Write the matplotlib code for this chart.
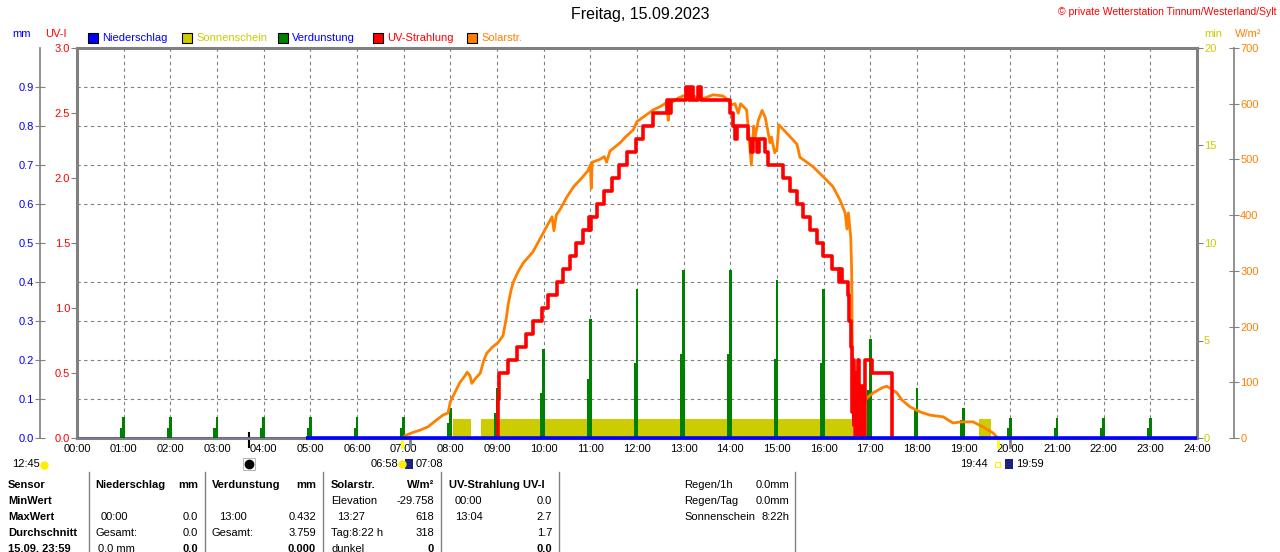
import matplotlib
matplotlib.use('Agg')
import matplotlib.pyplot as plt
import matplotlib.transforms as mtrans
from matplotlib.patches import Rectangle
from matplotlib.lines import Line2D

plt.rcParams['font.family'] = ['Liberation Sans', 'DejaVu Sans']
plt.rcParams['font.size'] = 8

#%% data
hours = list(range(25))
hour_labels = ['%02d:00' % h for h in hours]

# UV index, step curve (hour, UV-I)
uv_t = [9.00, 9.02, 9.05, 9.24, 9.43, 9.62, 9.77, 9.96, 10.09, 10.29, 10.41, 10.56,
        10.69, 10.84, 10.97, 11.00, 11.02, 11.14, 11.29, 11.46, 11.61, 11.79, 11.98,
        12.13, 12.34, 12.64, 12.68, 12.72, 13.05, 13.12, 13.16, 13.20, 13.30, 13.38,
        13.99, 14.06, 14.10, 14.14, 14.38, 14.45, 14.48, 14.58, 14.61, 14.74, 14.80,
        15.13, 15.27, 15.43, 15.56, 15.71, 15.86, 15.98, 16.18, 16.33, 16.36, 16.40,
        16.52, 16.55, 16.58, 16.60, 16.62, 16.64, 16.66, 16.68, 16.70, 16.72, 16.74,
        16.76, 16.80, 16.84, 16.89, 17.03, 17.46]
uv_v = [0.0, 0.3, 0.5, 0.6, 0.7, 0.8, 0.9, 1.0, 1.1, 1.2, 1.3, 1.4,
        1.5, 1.6, 1.7, 1.6, 1.7, 1.8, 1.9, 2.0, 2.1, 2.2, 2.3,
        2.4, 2.5, 2.6, 2.5, 2.6, 2.7, 2.6, 2.7, 2.6, 2.7, 2.6,
        2.5, 2.4, 2.3, 2.4, 2.3, 2.2, 2.3, 2.2, 2.3, 2.2, 2.1,
        2.0, 1.9, 1.8, 1.7, 1.6, 1.5, 1.4, 1.3, 1.2, 1.3, 1.2,
        1.1, 0.9, 0.7, 0.2, 0.6, 0.1, 0.5, 0.0, 0.5, 0.1, 0.6,
        0.0, 0.4, 0.0, 0.6, 0.5, 0.0]

# solar radiation W/m2
solar_t = [6.97, 7.05, 7.20, 7.35, 7.52, 7.70, 7.84, 7.95, 8.00, 8.10, 8.20, 8.30,
           8.36, 8.42, 8.46, 8.55, 8.64, 8.72, 8.78, 8.90, 9.02, 9.13, 9.20, 9.24,
           9.30, 9.35, 9.45, 9.56, 9.77, 9.99, 10.10, 10.18, 10.22, 10.27, 10.35,
           10.50, 10.65, 10.82, 10.95, 11.00, 11.02, 11.04, 11.20, 11.30, 11.35,
           11.42, 11.64, 11.75, 11.92, 12.00, 12.20, 12.35, 12.50, 12.64, 12.67,
           12.70, 12.88, 13.13, 13.35, 13.63, 13.84, 13.90, 14.03, 14.10, 14.17,
           14.22, 14.35, 14.45, 14.50, 14.53, 14.60, 14.68, 14.75, 14.85, 14.88,
           14.95, 15.00, 15.04, 15.20, 15.43, 15.49, 15.77, 15.99, 16.20, 16.35,
           16.46, 16.50, 16.53, 16.58, 16.60, 16.62, 16.65, 16.71, 16.80, 16.93,
           17.06, 17.25, 17.35, 17.45, 17.57, 17.68, 17.85, 18.06, 18.28, 18.56,
           18.77, 18.96, 19.20, 19.41, 19.63, 19.73]
solar_w = [0, 5, 10, 14, 20, 32, 41, 45, 65, 82, 99, 110,
           118, 112, 98, 108, 116, 140, 152, 163, 171, 184, 215, 240,
           265, 280, 298, 314, 334, 368, 385, 397, 372, 400, 410,
           433, 452, 467, 480, 490, 448, 495, 500, 505, 495,
           515, 530, 540, 553, 568, 580, 589, 595, 602, 570,
           600, 610, 619, 607, 616, 614, 610, 598, 600, 583,
           600, 589, 490, 560, 540, 570, 588, 575, 530, 540,
           512, 520, 562, 548, 527, 504, 487, 469, 451, 427,
           404, 375, 404, 361, 300, 90, 60, 50, 55, 72,
           81, 90, 93, 88, 81, 68, 56, 47, 41, 38,
           27, 29, 29, 20, 9, 0]

# sunshine minutes (blocks)
sun_start = [8.06, 8.66, 19.33]
sun_end = [8.44, 16.62, 19.58]
sun_min = [1, 1, 1]

# evaporation mm per hour
evap_t = list(range(1, 24))
evap_peak = [0.054, 0.054, 0.054, 0.054, 0.054, 0.054, 0.054, 0.077, 0.128, 0.228,
             0.305, 0.382, 0.432, 0.431, 0.405, 0.382, 0.254, 0.128, 0.077, 0.051,
             0.051, 0.051, 0.051]
evap_low = [0.026, 0.026, 0.026, 0.026, 0.026, 0.026, 0.026, 0.038, 0.064, 0.115,
            0.151, 0.192, 0.215, 0.215, 0.203, 0.192, 0.123, 0.072, 0.046, 0.026,
            0.026, 0.026, 0.026]

# precipitation mm
rain_t = [4.9, 24.0]
rain_mm = [0.0, 0.0]

# events below the time axis
moon_t = 3.68
sunrise = [6.967, 7.133]
sunset = [19.733, 19.983]

BLUE = '#0000ff'
YEL = '#cccc00'
GREEN = '#008000'
RED = '#ff0000'
ORANGE = '#ff8000'
GRAY = '#808080'

W, H = 1280, 552
def fp(x, y):
    return x / W, 1 - y / H

fig = plt.figure(figsize=(W / 100, H / 100), dpi=100)
ax = fig.add_axes([77 / W, 114 / H, 1120 / W, 390 / H])
ax_mm = ax.twinx()
ax_sol = ax.twinx()
ax_uv = ax.twinx()

#%% base axes: frame, grid, sunshine (min)
ax.set_xlim(0, 24)
ax.set_ylim(0, 20)
ax.bar(sun_start, sun_min, width=[e - s for s, e in zip(sun_start, sun_end)],
       align='edge', color=YEL, lw=0)
ax.yaxis.tick_right()
ax.set_yticks([0, 5, 10, 15, 20])
ax.set_yticks(range(2, 20, 2), minor=True)
ax.tick_params(axis='y', which='major', color=GRAY, labelcolor=YEL, length=4, pad=1)
ax.tick_params(axis='y', which='minor', length=0)
ax.set_xticks(hours)
ax.set_xticklabels(hour_labels)
ax.tick_params(axis='x', length=0, pad=4)
ax.grid(which='minor', axis='y', ls=(0, (3, 3)), color=GRAY, lw=0.8)
ax.grid(which='major', axis='x', ls=(0, (3, 3)), color=GRAY, lw=0.8)
for s in ax.spines.values():
    s.set_color(GRAY)
    s.set_linewidth(2.2)

#%% mm axis: evaporation + precipitation
ax_mm.set_ylim(0, 1)
ax_mm.yaxis.tick_left()
for k in ['right', 'top', 'bottom']:
    ax_mm.spines[k].set_visible(False)
ax_mm.spines['left'].set_position(('axes', -37 / 1120))
ax_mm.spines['left'].set_color(GRAY)
ax_mm.spines['left'].set_linewidth(1.2)
ax_mm.set_yticks([i / 10 for i in range(10)])
ax_mm.set_yticklabels(['%.1f' % (i / 10) for i in range(10)])
ax_mm.tick_params(axis='y', direction='inout', length=7, color=GRAY, labelcolor=BLUE, pad=1)
ax_mm.bar([t - 0.035 for t in evap_t], evap_low, width=0.08, color=GREEN, lw=0)
ax_mm.bar(evap_t, evap_peak, width=0.06, color=GREEN, lw=0)

#%% solar radiation axis
ax_sol.set_ylim(0, 700)
for k in ['left', 'top', 'bottom']:
    ax_sol.spines[k].set_visible(False)
ax_sol.spines['right'].set_position(('axes', 1157 / 1120))
ax_sol.spines['right'].set_color(GRAY)
ax_sol.spines['right'].set_linewidth(1.2)
ax_sol.set_yticks(range(0, 701, 100))
ax_sol.tick_params(axis='y', direction='inout', length=7, color=GRAY, labelcolor=ORANGE, pad=1)
ax_sol.plot(solar_t, solar_w, color=ORANGE, lw=2)

#%% UV axis (precipitation drawn last so it lies on top at zero)
ax_uv.set_ylim(0, 3)
ax_uv.yaxis.tick_left()
for s in ax_uv.spines.values():
    s.set_visible(False)
ax_uv.set_yticks([i / 2 for i in range(7)])
ax_uv.set_yticklabels(['%.1f' % (i / 2) for i in range(7)])
ax_uv.tick_params(axis='y', length=4, color=GRAY, labelcolor=RED, pad=1)
ax_uv.plot(uv_t, uv_v, drawstyle='steps-post', color=RED, lw=2.6)
ax_uv.axhline(0, color=BLUE, lw=1)
ax_uv.plot(rain_t, rain_mm, color=BLUE, lw=2.6, solid_capstyle='butt', clip_on=False)

ax.yaxis.tick_right()

#%% header
fig.text(*fp(640, 15), 'Freitag, 15.09.2023', ha='center', va='center', fontsize=11.5)
fig.text(*fp(1277, 12), '© private Wetterstation Tinnum/Westerland/Sylt', ha='right',
         va='center', color=RED, fontsize=7.5)
fig.text(*fp(22, 34), 'mm', ha='center', va='center', color=BLUE)
fig.text(*fp(56, 34), 'UV-I', ha='center', va='center', color=RED)
fig.text(*fp(1213, 34), 'min', ha='center', va='center', color=YEL)
fig.text(*fp(1248, 34), 'W/m²', ha='center', va='center', color=ORANGE)

legend = [('Niederschlag', BLUE, BLUE, 88), ('Sonnenschein', YEL, YEL, 182),
          ('Verdunstung', GREEN, BLUE, 278), ('UV-Strahlung', RED, RED, 373),
          ('Solarstr.', ORANGE, ORANGE, 467)]
for name, c, tc, x in legend:
    fig.add_artist(Rectangle(fp(x, 43), 10 / W, 10 / H, transform=fig.transFigure,
                             facecolor=c, edgecolor='black', lw=0.8))
    fig.text(*fp(x + 14, 38), name, ha='left', va='center', color=tc)

#%% events under the axis
tr = mtrans.blended_transform_factory(ax.transData, fig.transFigure)
ev = dict(transform=tr, clip_on=False)
ax.add_artist(Line2D([moon_t, moon_t], [fp(0, 433)[1], fp(0, 447)[1]], color='black', lw=1.5, **ev))
ax.add_artist(Line2D([sunrise[0]] * 2, [fp(0, 437)[1], fp(0, 447)[1]], color='yellow', lw=2, **ev))
ax.add_artist(Line2D([sunrise[1]] * 2, [fp(0, 437)[1], fp(0, 447)[1]], color=GRAY, lw=2, **ev))
ax.add_artist(Line2D([sunset[0]] * 2, [fp(0, 437)[1], fp(0, 447)[1]], color='yellow', lw=2, **ev))
ax.add_artist(Line2D([sunset[1]] * 2, [fp(0, 437)[1], fp(0, 447)[1]], color=GRAY, lw=2, **ev))
ax.plot([moon_t], [fp(0, 464)[1]], marker='o', ms=6, color='black', **ev)
ax.plot([moon_t], [fp(0, 464)[1]], marker='s', ms=9, mfc='none', mec='#aaaaaa', mew=0.6, **ev)

fig.text(*fp(12, 464), '12:45', ha='left', va='center')
fig.add_artist(Line2D([44 / W], [fp(0, 465)[1]], marker='o', ms=5, color='#ffee00',
                      transform=fig.transFigure))
fig.text(*fp(398, 464), '06:58', ha='right', va='center')
fig.add_artist(Line2D([402 / W], [fp(0, 464)[1]], marker='o', ms=5, color='#ffee00',
                      transform=fig.transFigure))
fig.add_artist(Rectangle(fp(405, 469), 8 / W, 10 / H, transform=fig.transFigure,
                         facecolor='#1a237e', lw=0))
fig.text(*fp(416, 464), '07:08', ha='left', va='center')
fig.text(*fp(988, 464), '19:44', ha='right', va='center')
fig.add_artist(Rectangle(fp(995, 467), 5 / W, 5 / H, transform=fig.transFigure,
                         facecolor='none', edgecolor='#ffee00', lw=0.8))
fig.add_artist(Rectangle(fp(1005, 469), 8 / W, 10 / H, transform=fig.transFigure,
                         facecolor='#1a237e', lw=0))
fig.text(*fp(1016, 464), '19:59', ha='left', va='center')

#%% table
for x in [89, 205, 323, 441, 559, 795]:
    fig.add_artist(Line2D([x / W, x / W], [fp(0, 472)[1], 0], color=GRAY, lw=1,
                          transform=fig.transFigure))

rows_y = [485, 501, 517, 533, 549]
row_names = ['Sensor', 'MinWert', 'MaxWert', 'Durchschnitt', '15.09. 23:59']
for name, y in zip(row_names, rows_y):
    fig.text(*fp(8, y), name, ha='left', va='center', fontweight='bold')

cells = [
    (95, 0, 'Niederschlag', 'left', True), (198, 0, 'mm', 'right', True),
    (101, 2, '00:00', 'left', False), (198, 2, '0.0', 'right', False),
    (95, 3, 'Gesamt:', 'left', False), (198, 3, '0.0', 'right', False),
    (98, 4, '0.0 mm', 'left', False), (198, 4, '0.0', 'right', True),
    (212, 0, 'Verdunstung', 'left', True), (316, 0, 'mm', 'right', True),
    (219, 2, '13:00', 'left', False), (316, 2, '0.432', 'right', False),
    (212, 3, 'Gesamt:', 'left', False), (316, 3, '3.759', 'right', False),
    (316, 4, '0.000', 'right', True),
    (331, 0, 'Solarstr.', 'left', True), (434, 0, 'W/m²', 'right', True),
    (331, 1, 'Elevation', 'left', False), (434, 1, '-29.758', 'right', False),
    (337, 2, '13:27', 'left', False), (434, 2, '618', 'right', False),
    (331, 3, 'Tag:8:22 h', 'left', False), (434, 3, '318', 'right', False),
    (331, 4, 'dunkel', 'left', False), (434, 4, '0', 'right', True),
    (449, 0, 'UV-Strahlung UV-I', 'left', True),
    (455, 1, '00:00', 'left', False), (552, 1, '0.0', 'right', False),
    (455, 2, '13:04', 'left', False), (552, 2, '2.7', 'right', False),
    (552, 3, '1.7', 'right', False), (552, 4, '0.0', 'right', True),
    (684, 0, 'Regen/1h', 'left', False), (789, 0, '0.0mm', 'right', False),
    (684, 1, 'Regen/Tag', 'left', False), (789, 1, '0.0mm', 'right', False),
    (684, 2, 'Sonnenschein', 'left', False), (789, 2, '8:22h', 'right', False),
]
for x, r, txt, ha, bold in cells:
    fig.text(*fp(x, rows_y[r]), txt, ha=ha, va='center',
             fontweight='bold' if bold else 'normal')

fig.savefig('out.png', dpi=100, facecolor='white')
